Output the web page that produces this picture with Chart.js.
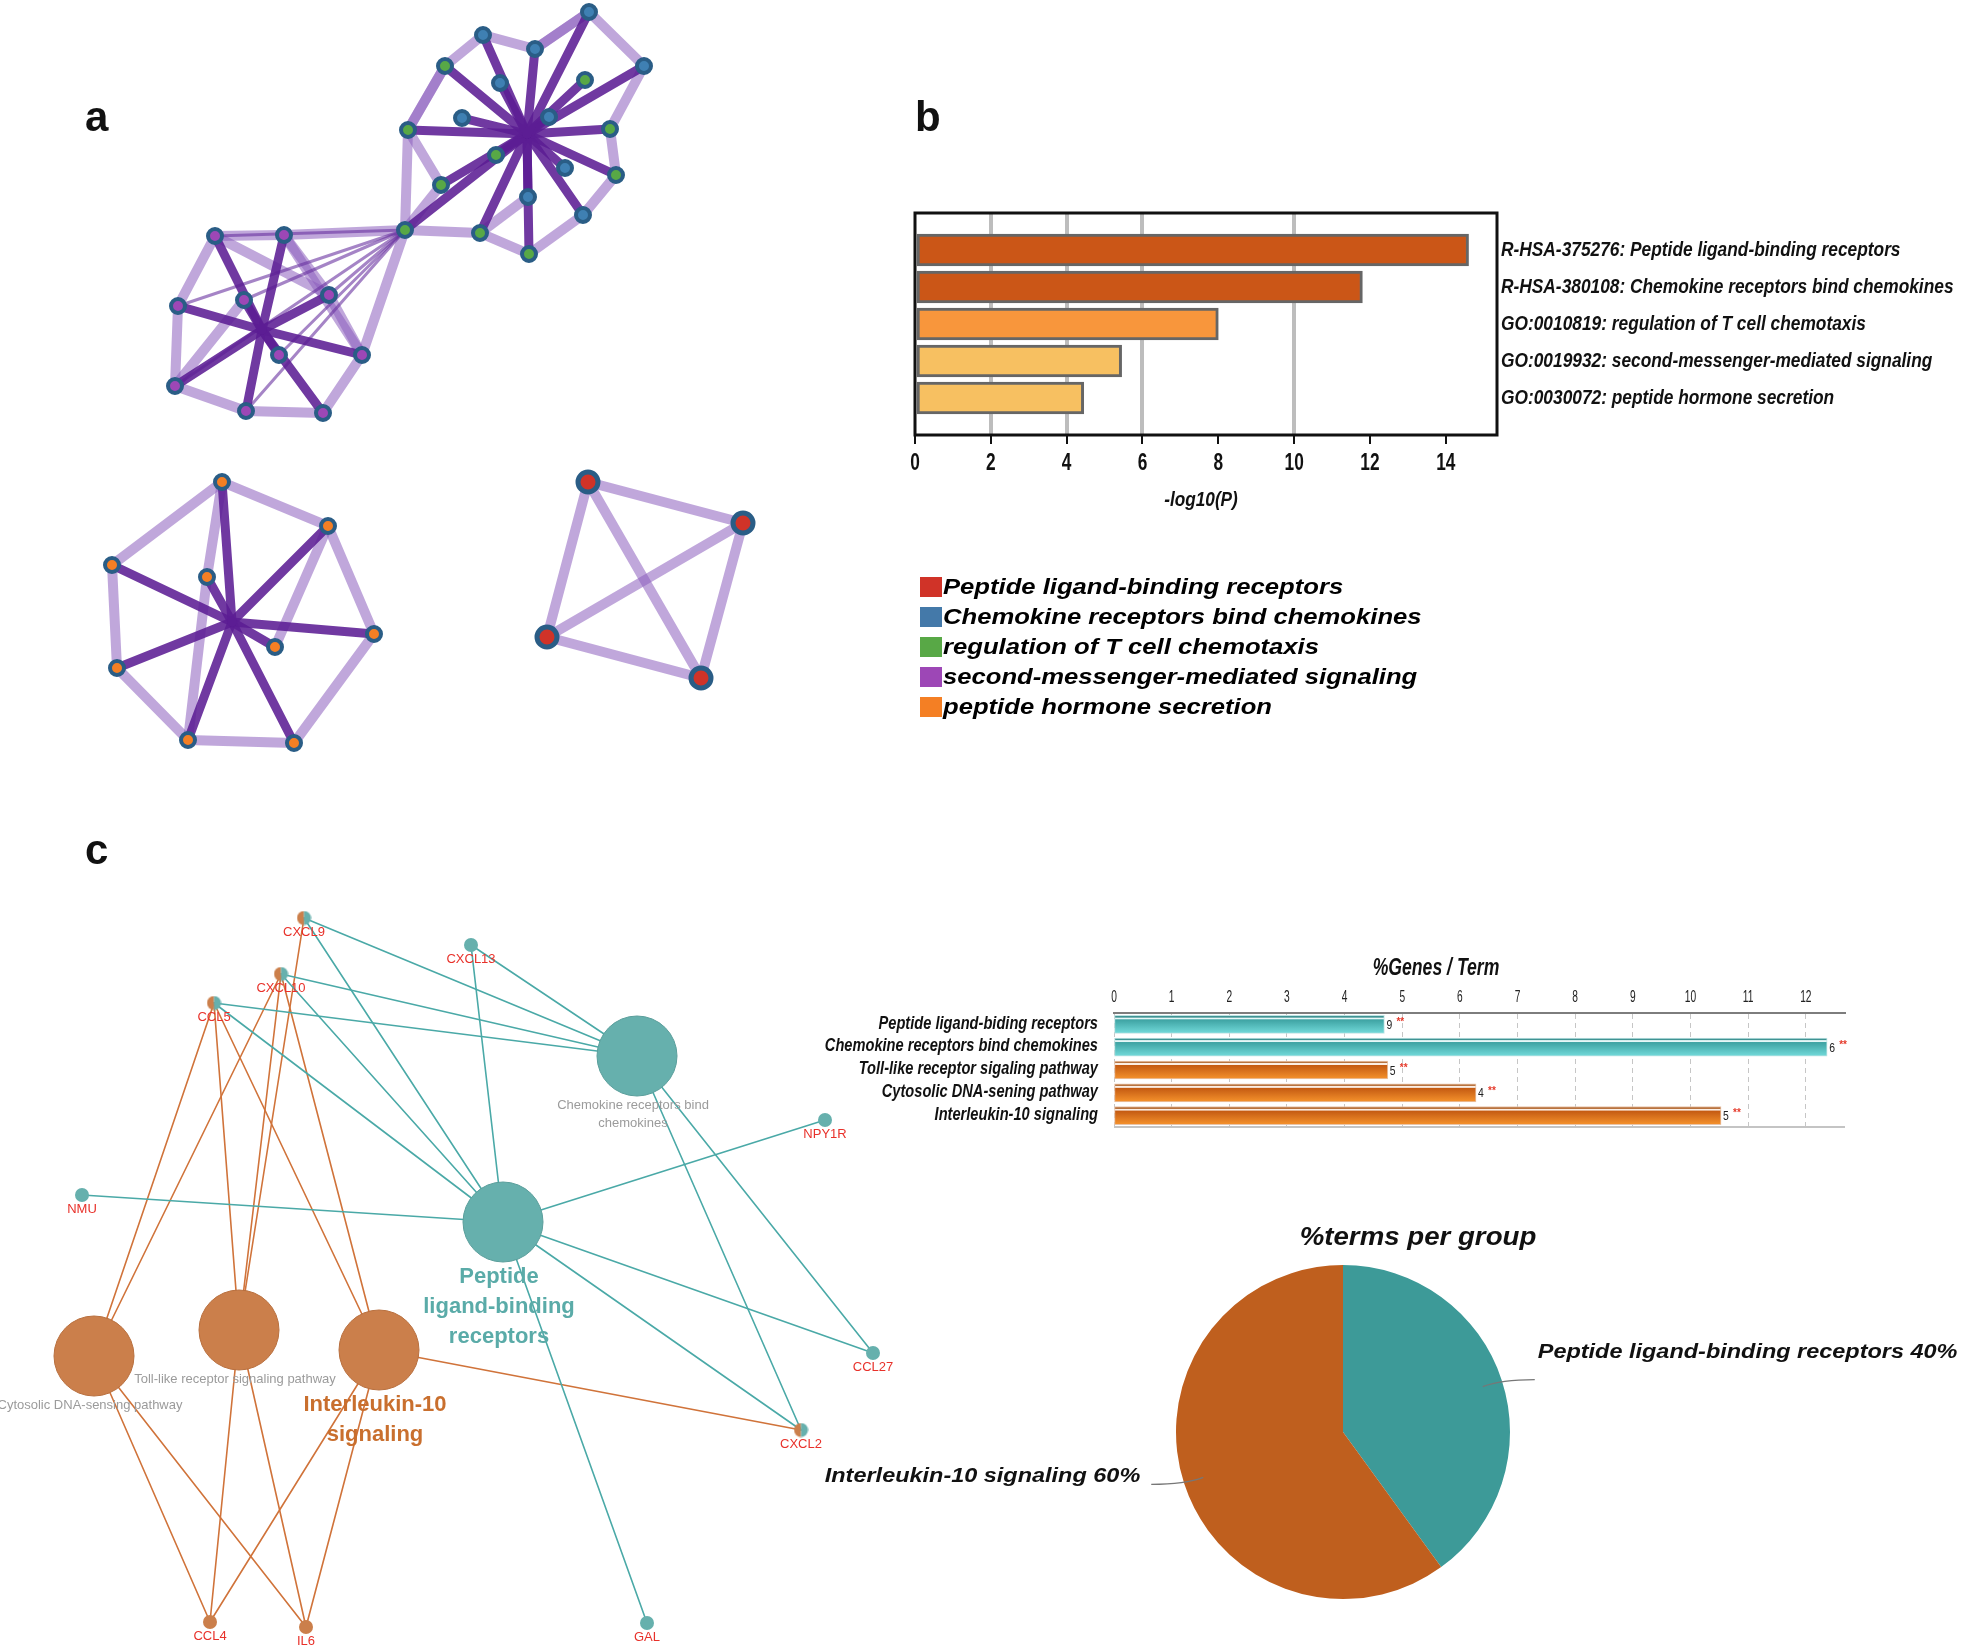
<!DOCTYPE html>
<html>
<head>
<meta charset="utf-8">
<title>Enrichment figure</title>
<script src="https://cdn.jsdelivr.net/npm/chart.js@4.4.1/dist/chart.umd.min.js"></script>
<style>
  body { margin:0; background:#fff; }
  #page { position:relative; width:1961px; height:1645px; overflow:hidden; font-family:'Liberation Sans', Arial, sans-serif; }
  .wrap { position:absolute; }
  .letter { position:absolute; font-weight:bold; font-size:42px; line-height:42px; color:#111; }
  #legend { position:absolute; left:920px; top:572px; font-style:italic; font-weight:bold; font-size:22px; color:#000; }
  #legend div { height:30px; display:flex; align-items:center; white-space:nowrap; }
  #legend i { display:inline-block; width:22px; height:20px; margin-right:1px; }
  #legend b { display:inline-block; transform:scaleX(1.165); transform-origin:left center; }
</style>
</head>
<body>
<div id="page">
  <div class="wrap" style="left:0;top:0;width:1961px;height:1645px"><canvas id="network"></canvas></div>
  <div class="wrap" style="left:905px;top:203px;width:1056px;height:317px"><canvas id="enrichBar"></canvas></div>
  <div class="wrap" style="left:800px;top:950px;width:1061px;height:190px"><canvas id="geneBar"></canvas></div>
  <div class="wrap" style="left:800px;top:1220px;width:1161px;height:425px"><canvas id="groupPie"></canvas></div>
  <div class="letter" style="left:85px;top:96px">a</div>
  <div class="letter" style="left:915px;top:96px">b</div>
  <div class="letter" style="left:85px;top:829px">c</div>
  <div id="legend"></div>
</div>
<script>
const SANS = "'Liberation Sans', Arial, sans-serif";

// ---- panel a : cluster network (layout) ----
const clusterNames = ['Peptide ligand-binding receptors', 'Chemokine receptors bind chemokines',
  'regulation of T cell chemotaxis', 'second-messenger-mediated signaling', 'peptide hormone secretion'];
const clusterColors = ['#d03328', '#4479a9', '#58a846', '#9d47b6', '#f47f24'];
const nodeX = [589,483,535,644,445,585,500,549,462,408,610,496,565,616,441,528,583,480,405,529,
  215,284,178,244,329,279,362,175,246,323,
  222,328,112,207,374,275,117,188,294,
  588,743,547,701];
const nodeY = [12,35,49,66,66,80,83,117,118,130,129,155,168,175,185,197,215,233,230,254,
  236,235,306,300,295,355,355,386,411,413,
  482,526,565,577,634,647,668,740,743,
  482,523,637,678];
const nodeCluster = [1,1,1,1,2,2,1,1,1,2,2,2,1,2,2,1,1,2,2,2,
  3,3,3,3,3,3,3,3,3,3,
  4,4,4,4,4,4,4,4,4,
  0,0,0,0];
// bundled edges meet in a centre point per cluster
const hubX = [527, 262, 232];
const hubY = [134, 330, 622];
const nodeHub = [0,0,0,0,0,0,0,0,0,0,0,0,0,0,0,0,0,0,0,0, 1,1,1,1,1,1,1,1,1,1, 2,2,2,2,2,2,2,2,2, -1,-1,-1,-1];
const weakEdges = [[0,3],[3,10],[10,13],[13,16],[16,19],[19,17],[17,18],[18,14],[14,9],[9,4],[4,1],[1,2],[2,0],[18,9],[17,15],[0,2],[4,9],
  [20,21],[21,24],[24,26],[26,29],[29,28],[28,27],[27,22],[22,20],[21,26],[20,24],[23,27],
  [18,21],[18,26],
  [30,31],[31,34],[34,38],[38,37],[37,36],[36,32],[32,30],[31,35],[30,33],[33,37],
  [39,40],[40,42],[42,41],[41,39],[39,42],[40,41]];
const bridgeEdges = [[18,22],[18,23],[18,24],[18,25],[18,27],[18,28],[18,20]];

// ---- panel b : enriched terms ----
const enrichTerms = ['R-HSA-375276: Peptide ligand-binding receptors', 'R-HSA-380108: Chemokine receptors bind chemokines',
  'GO:0010819: regulation of T cell chemotaxis', 'GO:0019932: second-messenger-mediated signaling',
  'GO:0030072: peptide hormone secretion'];
const enrichLogP = [14.6, 11.8, 8.0, 5.45, 4.45];
const enrichColors = ['#cb5617', '#cb5617', '#f8963c', '#f7c061', '#f7c061'];
const logPTicks = [0, 2, 4, 6, 8, 10, 12, 14];
const logPGridLines = [2, 4, 6, 10];

// ---- panel c : gene / term network ----
const geneNames = ['CXCL9','CXCL13','CXCL10','CCL5','NMU','NPY1R','CCL27','CXCL2','CCL4','IL6','GAL'];
const geneX = [304,471,281,214,82,825,873,801,210,306,647];
const geneY = [918,945,974,1003,1195,1120,1353,1430,1622,1627,1623];
const geneGroup = ['both','teal','both','both','teal','teal','teal','both','orange','orange','teal'];
const termNames = ['Chemokine receptors bind chemokines','Peptide ligand-binding receptors',
  'Cytosolic DNA-sensing pathway','Toll-like receptor signaling pathway','Interleukin-10 signaling'];
const termLines = [['Chemokine receptors bind','chemokines'], ['Peptide','ligand-binding','receptors'],
  ['Cytosolic DNA-sensing pathway'], ['Toll-like receptor signaling pathway'], ['Interleukin-10','signaling']];
const termX = [637,503,94,239,379];
const termY = [1056,1222,1356,1330,1350];
const termGroup = ['teal','teal','orange','orange','orange'];
const termLead = [false, true, false, false, true];
const geneTermLinks = [[0,0],[0,1],[1,0],[1,1],[2,0],[2,1],[3,0],[3,1],[4,1],[5,1],[6,1],[6,0],[7,1],[7,0],[10,1],
  [0,3],[2,2],[2,3],[2,4],[3,2],[3,3],[3,4],[7,4],[8,2],[8,3],[8,4],[9,2],[9,3],[9,4]];

// ---- panel c : %genes per term ----
const goTerms = ['Peptide ligand-biding receptors','Chemokine receptors bind chemokines',
  'Toll-like receptor sigaling pathway','Cytosolic DNA-sening pathway','Interleukin-10 signaling'];
const genePct = [4.69, 12.37, 4.75, 6.28, 10.53];
const geneCounts = [9, 6, 5, 4, 5];
const goGroup = ['teal','teal','orange','orange','orange'];
const pctTicks = [0,1,2,3,4,5,6,7,8,9,10,11,12];

// ---- panel c : %terms per group ----
const groupNames = ['Peptide ligand-binding receptors','Interleukin-10 signaling'];
const groupPct = [40, 60];
const groupColors = ['#3d9a98', '#bf5f1e'];

const TEAL = '#66b0ad', ORANGE = '#cb7f4b';

// legend under panel b
const legendEl = document.getElementById('legend');
clusterNames.forEach((n, i) => {
  const row = document.createElement('div');
  row.innerHTML = '<i style="background:' + clusterColors[i] + '"></i><b>' + n + '</b>';
  legendEl.appendChild(row);
});

// narrow / widened text: no condensed face is installed, so scale horizontally
function squeeze(ctx, text, x, y, font, sx, align, color) {
  ctx.save();
  ctx.font = font; ctx.fillStyle = color || '#111';
  ctx.textAlign = align; ctx.textBaseline = 'middle';
  ctx.translate(x, y); ctx.scale(sx, 1);
  ctx.fillText(text, 0, 0);
  ctx.restore();
}

// ================= network canvas (panels a and c) =================
const pt = (x, y) => ({x: x, y: y});
function edge(a, b, color, width, order) {
  return {data: [a, b], showLine: true, borderColor: color, borderWidth: width,
    pointRadius: 0, order: order, clip: false, borderCapStyle: 'round'};
}
const netSets = [];
weakEdges.forEach(e => netSets.push(edge(pt(nodeX[e[0]], nodeY[e[0]]), pt(nodeX[e[1]], nodeY[e[1]]), 'rgba(140,95,190,0.55)', 10, 30)));
nodeX.forEach((x, i) => {
  const h = nodeHub[i];
  if (h >= 0) netSets.push(edge(pt(x, nodeY[i]), pt(hubX[h], hubY[h]), 'rgba(92,30,148,0.88)', 9, 20));
});
bridgeEdges.forEach(e => netSets.push(edge(pt(nodeX[e[0]], nodeY[e[0]]), pt(nodeX[e[1]], nodeY[e[1]]), 'rgba(105,50,160,0.6)', 3, 25)));
clusterNames.forEach((n, c) => {
  const data = [];
  nodeX.forEach((x, i) => { if (nodeCluster[i] === c) data.push(pt(x, nodeY[i])); });
  netSets.push({data: data, backgroundColor: c === 1 ? '#3f80b3' : clusterColors[c], borderColor: '#2a5d86',
    borderWidth: c === 0 ? 5 : 4, pointRadius: c === 0 ? 10 : 7, order: 1, clip: false});
});

geneTermLinks.forEach(l => {
  const g = l[0], t = l[1];
  const col = termGroup[t] === 'teal' ? '#4aa9a7' : '#d0733a';
  netSets.push(edge(pt(geneX[g], geneY[g]), pt(termX[t], termY[t]), col, 1.6, 15));
});
// split node marker for genes in both groups
const half = document.createElement('canvas');
half.width = 15; half.height = 15;
{
  const h = half.getContext('2d');
  h.fillStyle = ORANGE; h.beginPath(); h.arc(7.5, 7.5, 7, Math.PI / 2, Math.PI * 1.5); h.fill();
  h.fillStyle = TEAL; h.beginPath(); h.arc(7.5, 7.5, 7, -Math.PI / 2, Math.PI / 2); h.fill();
}
['teal', 'orange', 'both'].forEach(grp => {
  const data = [];
  geneX.forEach((x, i) => { if (geneGroup[i] === grp) data.push(pt(x, geneY[i])); });
  const ds = {data: data, pointRadius: 7, borderWidth: 0, order: 2, clip: false,
    backgroundColor: grp === 'teal' ? TEAL : ORANGE};
  if (grp === 'both') ds.pointStyle = half;
  netSets.push(ds);
});
netSets.push({data: termX.map((x, i) => pt(x, termY[i])), pointRadius: 40, order: 3, clip: false,
  backgroundColor: termGroup.map(g => g === 'teal' ? TEAL : ORANGE),
  borderColor: termGroup.map(g => g === 'teal' ? '#5a9e9b' : '#b86f3e'), borderWidth: 1});

const netLabels = {
  id: 'netLabels',
  afterDatasetsDraw(chart) {
    const ctx = chart.ctx, sx = chart.scales.x, sy = chart.scales.y;
    ctx.save();
    ctx.textAlign = 'center'; ctx.textBaseline = 'middle';
    ctx.font = '13px ' + SANS; ctx.fillStyle = '#e8312a';
    geneNames.forEach((g, i) => ctx.fillText(g, sx.getPixelForValue(geneX[i]), sy.getPixelForValue(geneY[i]) + 14));
    termLines.forEach((lines, i) => {
      const lead = termLead[i];
      ctx.font = lead ? 'bold 22px ' + SANS : '13px ' + SANS;
      ctx.fillStyle = lead ? (termGroup[i] === 'teal' ? '#5aaba8' : '#c96f2e') : '#9b9b9b';
      const x0 = sx.getPixelForValue(termX[i]) - 4, y0 = sy.getPixelForValue(termY[i]);
      lines.forEach((s, k) => ctx.fillText(s, x0, y0 + (lead ? 55 + 30 * k : 49 + 18 * k)));
    });
    ctx.restore();
  }
};

new Chart(document.getElementById('network'), {
  type: 'scatter',
  data: {datasets: netSets},
  options: {
    responsive: true, maintainAspectRatio: false, animation: false, events: [],
    layout: {padding: 0, autoPadding: false},
    scales: {
      x: {type: 'linear', display: false, min: 0, max: 1961},
      y: {type: 'linear', display: false, min: 0, max: 1645, reverse: true}
    },
    plugins: {legend: {display: false}, tooltip: {enabled: false}}
  },
  plugins: [netLabels]
});

// ================= panel b bar chart =================
const enrichText = {
  id: 'enrichText',
  afterDraw(chart) {
    const a = chart.chartArea, ctx = chart.ctx, sx = chart.scales.x, sy = chart.scales.y;
    ctx.save(); ctx.lineWidth = 3; ctx.strokeStyle = '#111';
    ctx.strokeRect(a.left, a.top, a.right - a.left, a.bottom - a.top);
    ctx.restore();
    enrichTerms.forEach((t, i) => squeeze(ctx, t, a.right + 4, sy.getPixelForValue(i + 1),
      'italic bold 21px ' + SANS, 0.825, 'left'));
    logPTicks.forEach(v => squeeze(ctx, String(v), sx.getPixelForValue(v), a.bottom + 28, 'bold 24px ' + SANS, 0.72, 'center'));
    squeeze(ctx, '-log10(P)', (a.left + a.right) / 2 - 5, a.bottom + 65, 'italic bold 21px ' + SANS, 0.82, 'center');
  }
};
new Chart(document.getElementById('enrichBar'), {
  type: 'bar',
  data: {
    labels: [''].concat(enrichTerms, ['']),
    datasets: [{
      data: [null].concat(enrichLogP, [null]),
      backgroundColor: ['#fff'].concat(enrichColors, ['#fff']),
      borderColor: '#666', borderWidth: 3, borderSkipped: false, barThickness: 32
    }]
  },
  options: {
    indexAxis: 'y', responsive: true, maintainAspectRatio: false, animation: false, events: [],
    layout: {padding: {left: 10, top: 10, right: 0, bottom: 0}},
    plugins: {legend: {display: false}, tooltip: {enabled: false}},
    scales: {
      x: {
        type: 'linear', min: 0, max: 15.35,
        afterBuildTicks: s => { s.ticks = logPTicks.map(v => ({value: v})); },
        afterFit: s => { s.height = 85; },
        grid: {color: c => (c.tick && logPGridLines.includes(c.tick.value)) ? '#bdbdbd' : 'rgba(0,0,0,0)',
          lineWidth: 4, tickColor: '#111', tickWidth: 2, tickLength: 9},
        border: {display: false},
        ticks: {display: false}
      },
      y: {
        position: 'right', offset: false,
        afterFit: s => { s.width = 464; },
        grid: {display: false, drawTicks: false}, border: {display: false},
        ticks: {display: false}
      }
    }
  },
  plugins: [enrichText]
});

// ================= panel c %Genes / Term =================
function barFill(ctx) {
  const grp = goGroup[ctx.dataIndex];
  const solid = grp === 'teal' ? '#5fcaca' : '#e4801f';
  const sy = ctx.chart.scales.y;
  if (!sy) return solid;
  const py = sy.getPixelForValue(ctx.dataIndex);
  if (!isFinite(py)) return solid;
  const g = ctx.chart.ctx.createLinearGradient(0, py - 9, 0, py + 9);
  if (grp === 'teal') {
    g.addColorStop(0, '#3f9393'); g.addColorStop(0.11, '#3f9393'); g.addColorStop(0.13, '#e6f7f7'); g.addColorStop(0.2, '#e6f7f7');
    g.addColorStop(0.24, '#3ea3a3'); g.addColorStop(1, '#72dada');
  } else {
    g.addColorStop(0, '#b8733f'); g.addColorStop(0.11, '#b8733f'); g.addColorStop(0.13, '#fbeee4'); g.addColorStop(0.2, '#fbeee4');
    g.addColorStop(0.24, '#c45a12'); g.addColorStop(1, '#f5922c');
  }
  return g;
}
const geneText = {
  id: 'geneText',
  afterDraw(chart) {
    const ctx = chart.ctx, a = chart.chartArea, sx = chart.scales.x, sy = chart.scales.y;
    ctx.save();
    ctx.strokeStyle = '#c4c4c4'; ctx.lineWidth = 2;
    ctx.beginPath(); ctx.moveTo(a.left, a.bottom); ctx.lineTo(a.right, a.bottom); ctx.stroke();
    ctx.restore();
    chart.getDatasetMeta(0).data.forEach((bar, i) => {
      squeeze(ctx, String(geneCounts[i]), bar.x + 2, bar.y + 1, '13px ' + SANS, 0.8, 'left', '#222');
      squeeze(ctx, '**', bar.x + 12, bar.y - 2, 'bold 10px ' + SANS, 1, 'left', '#e5392a');
    });
    goTerms.forEach((t, i) => squeeze(ctx, t, a.left - 16, sy.getPixelForValue(i) - 1,
      'italic bold 19px ' + SANS, 0.77, 'right'));
    pctTicks.forEach(v => squeeze(ctx, String(v), sx.getPixelForValue(v), a.top - 16, '17px ' + SANS, 0.6, 'center', '#222'));
    squeeze(ctx, '%Genes / Term', a.left + 322, a.top - 44, 'italic bold 23.5px ' + SANS, 0.75, 'center');
  }
};
new Chart(document.getElementById('geneBar'), {
  type: 'bar',
  data: {labels: goTerms, datasets: [{data: genePct, backgroundColor: barFill, borderWidth: 1,
    borderColor: goGroup.map(g => g === 'teal' ? '#bfe3e3' : '#e8c3a8'), borderSkipped: false, barThickness: 18}]},
  options: {
    indexAxis: 'y', responsive: true, maintainAspectRatio: false, animation: false, events: [],
    layout: {padding: {left: 0, top: 0, right: 16, bottom: 13}},
    plugins: {legend: {display: false}, tooltip: {enabled: false}},
    scales: {
      x: {
        position: 'top', min: 0, max: 12.68,
        afterBuildTicks: s => { s.ticks = pctTicks.map(v => ({value: v})); },
        afterFit: s => { s.height = 63; },
        grid: {color: '#c6c6c6', lineWidth: 1, drawTicks: false},
        border: {display: true, color: '#7d7d7d', width: 2, dash: [5, 4]},
        ticks: {display: false}
      },
      y: {
        afterFit: s => { s.width = 314; },
        grid: {display: false}, border: {display: false},
        ticks: {display: false}
      }
    }
  },
  plugins: [geneText]
});

// ================= panel c %terms per group =================
const pieLabels = {
  id: 'pieLabels',
  afterDraw(chart) {
    const ctx = chart.ctx, arcs = chart.getDatasetMeta(0).data;
    const cx = arcs[0].x, cy = arcs[0].y, r = arcs[0].outerRadius;
    squeeze(ctx, '%terms per group', cx + 75, cy - r - 27, 'italic bold 25px ' + SANS, 1.106, 'center');
    arcs.forEach((arc, i) => {
      const mid = (arc.startAngle + arc.endAngle) / 2;
      const right = Math.cos(mid) > 0, dir = right ? 1 : -1;
      const x0 = cx + 0.88 * r * Math.cos(mid), y0 = cy + 0.88 * r * Math.sin(mid);
      const x1 = x0 + 52 * dir, y1 = y0 - 7 * dir;
      ctx.save();
      ctx.strokeStyle = '#777'; ctx.lineWidth = 1.2;
      ctx.beginPath(); ctx.moveTo(x0, y0); ctx.quadraticCurveTo(x0 + 18 * dir, y1, x1, y1); ctx.stroke();
      ctx.restore();
      squeeze(ctx, groupNames[i] + ' ' + groupPct[i] + '%', right ? x1 + 3 : x1 - 11, right ? y1 - 27 : y1 - 8,
        'italic bold 21px ' + SANS, 1.117, right ? 'left' : 'right');
    });
  }
};
new Chart(document.getElementById('groupPie'), {
  type: 'pie',
  data: {labels: groupNames, datasets: [{data: groupPct, backgroundColor: groupColors, borderWidth: 0}]},
  options: {
    responsive: true, maintainAspectRatio: false, animation: false, events: [],
    layout: {padding: {left: 376, right: 451, top: 45, bottom: 46}},
    plugins: {legend: {display: false}, tooltip: {enabled: false}}
  },
  plugins: [pieLabels]
});
</script>
</body>
</html>
